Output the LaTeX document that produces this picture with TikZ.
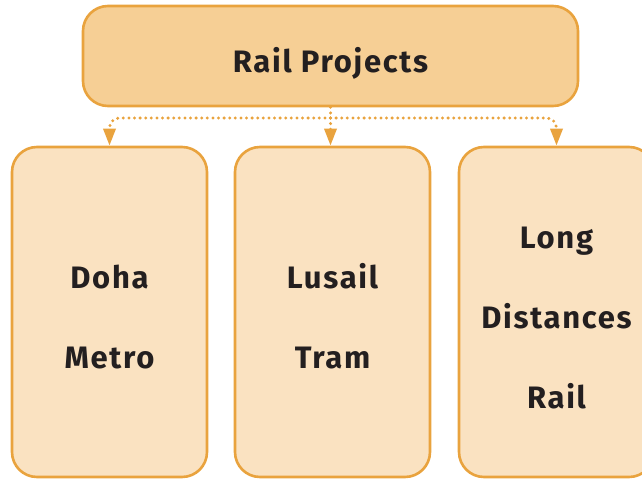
\documentclass[tikz,border=0pt]{standalone}
\usepackage{fontspec}
\setmainfont[LetterSpace=5.5]{Fira Sans}
\usetikzlibrary{arrows.meta,positioning}
\definecolor{topfill}{HTML}{F6CF95}
\definecolor{botfill}{HTML}{FAE2C1}
\definecolor{edge}{HTML}{E9A33E}
\definecolor{ink}{HTML}{231F20}
\tikzset{
  topbox/.style={draw=edge, fill=topfill, line width=2.6pt, rounded corners=25pt,
    minimum width=495pt, minimum height=100pt, inner sep=0pt,
    text height=32pt, text depth=0pt,
    font=\fontsize{31}{31}\selectfont\bfseries, text=ink},
  botbox/.style={draw=edge, fill=botfill, line width=2.6pt, rounded corners=25pt,
    minimum width=195pt, minimum height=330pt, inner sep=0pt, align=center,
    font=\fontsize{31}{80}\selectfont\bfseries, text=ink},
  conn/.style={draw=edge, line width=3.3pt, line cap=round, dash pattern=on 0pt off 5.6pt,
    rounded corners=10pt},
  tip/.style={-{Triangle[length=17pt,width=12pt,fill=edge]}}
}
\begin{document}
\begin{tikzpicture}[x=1pt,y=-1pt]
\useasboundingbox (0,0) rectangle (642,479);
\node[topbox] (top) at (330.5,56) {Rail Projects};
\node[botbox] (doha) at (109.5,312) {\strut Doha\\\strut Metro};
\node[botbox] (lusail) at (332.5,312) {\strut Lusail\\\strut Tram};
\node[botbox] (long) at (556.5,312) {\strut Long\\\strut Distances\\\strut Rail};
\coordinate (hub) at (330.5,118);
\draw[conn] (top.south) -- (hub);
\draw[conn,tip] (hub) -| (doha.north);
\draw[conn,tip] (hub) -- (lusail.north -| hub);
\draw[conn,tip] (hub) -| (long.north);
\end{tikzpicture}
\end{document}
